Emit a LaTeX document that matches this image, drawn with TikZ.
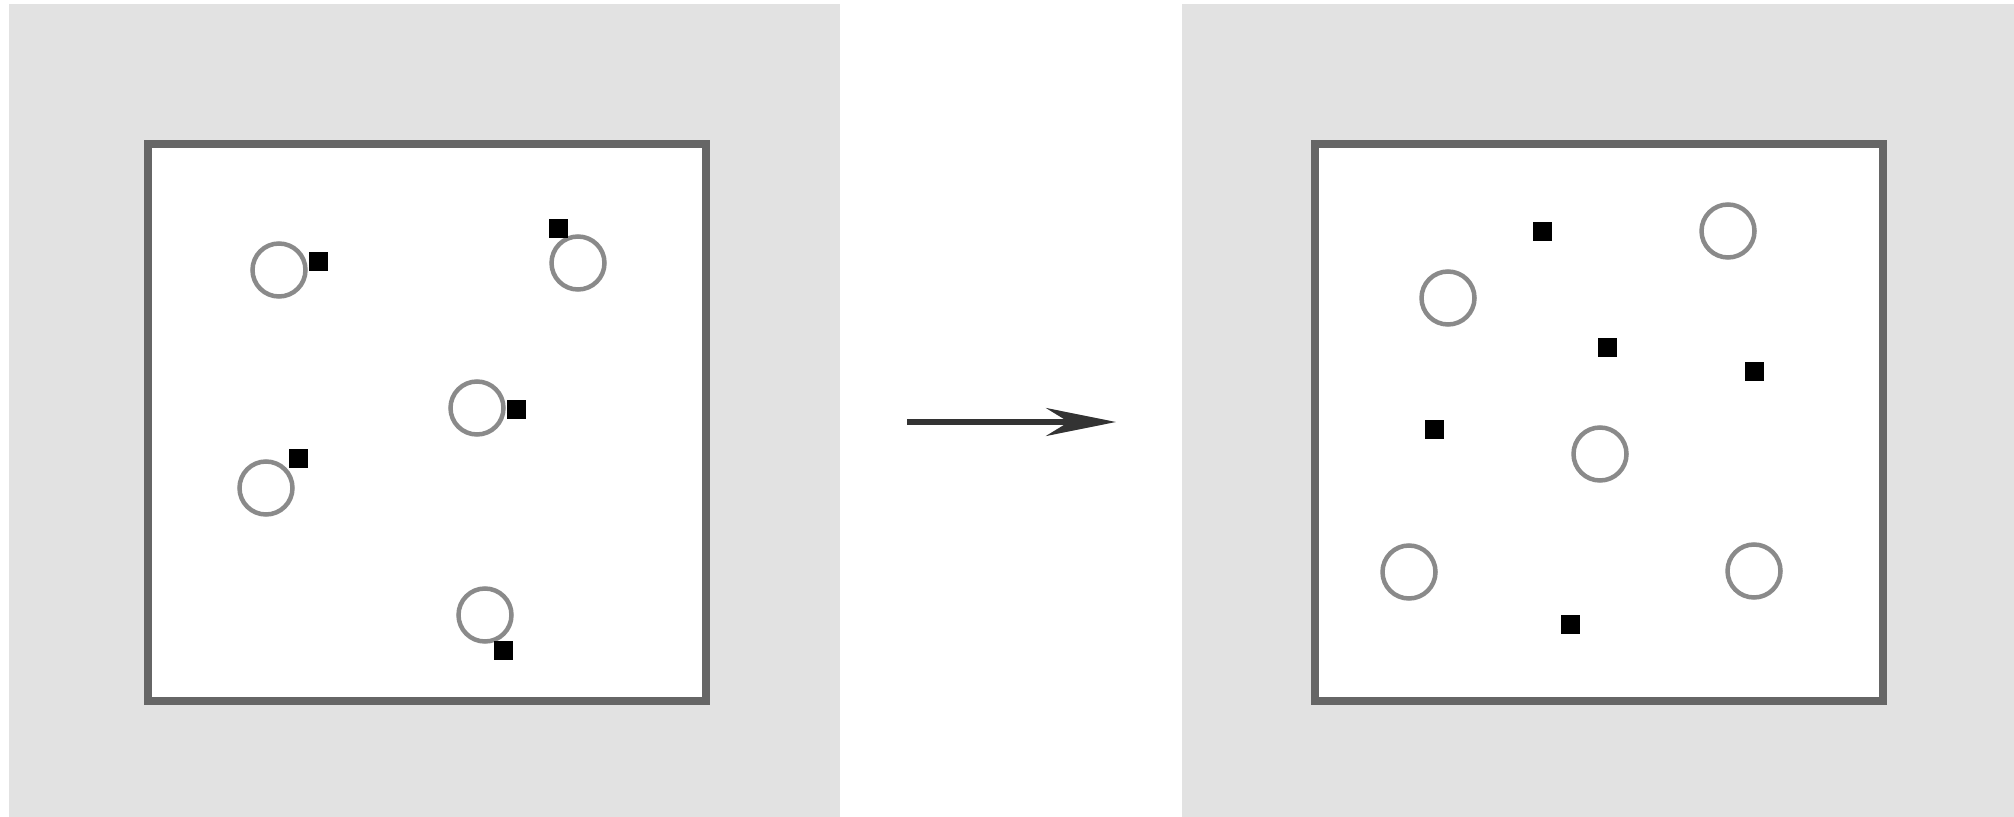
\documentclass[tikz,border=0pt]{standalone}
\usetikzlibrary{arrows.meta}
\definecolor{panelgray}{HTML}{E2E2E2}
\definecolor{framegray}{HTML}{666666}
\definecolor{ringgray}{HTML}{8A8A8A}

\begin{document}
\begin{tikzpicture}[x=0.1mm, y=-0.1mm,
    panel/.style={fill=panelgray},
    cell/.style={rectangle, draw=framegray, line width=0.8mm, fill=white, minimum height=55.7mm, inner sep=0pt},
    ring/.style={circle, draw=ringgray, line width=0.45mm, minimum size=5.3mm, inner sep=0pt},
    speck/.style={rectangle, fill=black, minimum size=1.9mm, inner sep=0pt},
    arrow/.style={line width=0.55mm, draw=black!80, -{Stealth[length=7mm, width=2.8mm]}}]
    \useasboundingbox (0,0) rectangle (2014,817);
    % grey backgrounds
    \fill [panel] (9,4) rectangle (840,817);
    \fill [panel] (1182,4) rectangle (2014,817);
    \node [cell, minimum width=55.8mm] (before) at (427,422.5) {};
    \node [cell, minimum width=56.8mm] (after) at (1599,422.5) {};
    % left: pairs
    \node [ring] (ra) at (279,270) {};
    \node [speck] (sa) at (318,262) {};
    \node [ring] (rb) at (578,263) {};
    \node [speck] (sb) at (558,229) {};
    \node [ring] (rc) at (477,408) {};
    \node [speck] (sc) at (516,410) {};
    \node [ring] (rd) at (266,488) {};
    \node [speck] (sd) at (298,459) {};
    \node [ring] (re) at (485,615) {};
    \node [speck] (se) at (503,650) {};
    % right: separated
    \node [ring] (rf) at (1448,298) {};
    \node [ring] (rg) at (1728,231) {};
    \node [ring] (rh) at (1600,454) {};
    \node [ring] (ri) at (1409,572) {};
    \node [ring] (rj) at (1754,571) {};
    \node [speck] (sf) at (1542,232) {};
    \node [speck] (sg) at (1607,348) {};
    \node [speck] (sh) at (1754,372) {};
    \node [speck] (si) at (1434,430) {};
    \node [speck] (sj) at (1570,624) {};
    \coordinate (from) at (907,422);
    \coordinate (to) at (1116,422);
    \draw [arrow] (from) -- (to);
\end{tikzpicture}
\end{document}
